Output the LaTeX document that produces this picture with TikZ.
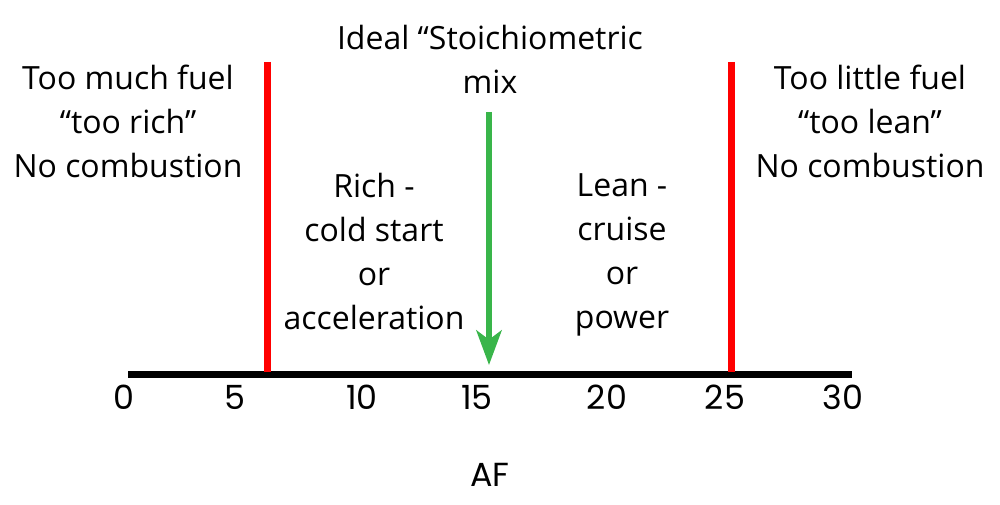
\documentclass[tikz,border=0pt]{standalone}
\usepackage{fontspec}
\usetikzlibrary{arrows.meta}
\setmainfont{Open Sans}
\newfontfamily\numfont{Poppins}
\definecolor{mixgreen}{RGB}{57,181,74}
\begin{document}
\begin{tikzpicture}[x=0.75pt,y=-0.75pt,
    zonetext/.style={align=center,inner sep=0pt,font=\fontsize{24}{33}\selectfont},
    ticktext/.style={anchor=base,inner sep=0pt,font=\numfont\fontsize{25}{30}\selectfont},
    limitline/.style={red,line width=5.25pt}]
    \useasboundingbox (0,0) rectangle (1000,505);

    % Draw axis and limits
    \draw[line width=5.25pt] (128,375) -- (852,375);
    \draw[limitline] (267,62) -- (267,372);
    \draw[limitline] (731,62) -- (731,372);

    % Stoichiometric arrow
    \coordinate (mixtop) at (489,112);
    \coordinate (mixtip) at (489,365);
    \draw[mixgreen,line width=4pt,-{Stealth[length=26pt,width=19pt,inset=7pt]}] (mixtop) -- (mixtip);

    % Labels
    \node[zonetext] (rich) at (128,121) {Too much fuel\\“too rich”\\No combustion};
    \node[zonetext] (lean) at (870,121) {Too little fuel\\“too lean”\\No combustion};
    \node[zonetext] (ideal) at (490,59) {Ideal “Stoichiometric\\mix};
    \node[zonetext] (coldstart) at (374,252) {Rich -\\cold start\\or\\acceleration};
    \node[zonetext] (cruise) at (622,255) {Lean -\\cruise\\or\\power};
    \foreach \x/\v in {124/0,235/5,362/10,477/15,607/20,725/25,843/30}
        \node[ticktext] (t\v) at (\x,410) {\v};
    \node[ticktext] (af) at (490,487) {AF};
\end{tikzpicture}
\end{document}
